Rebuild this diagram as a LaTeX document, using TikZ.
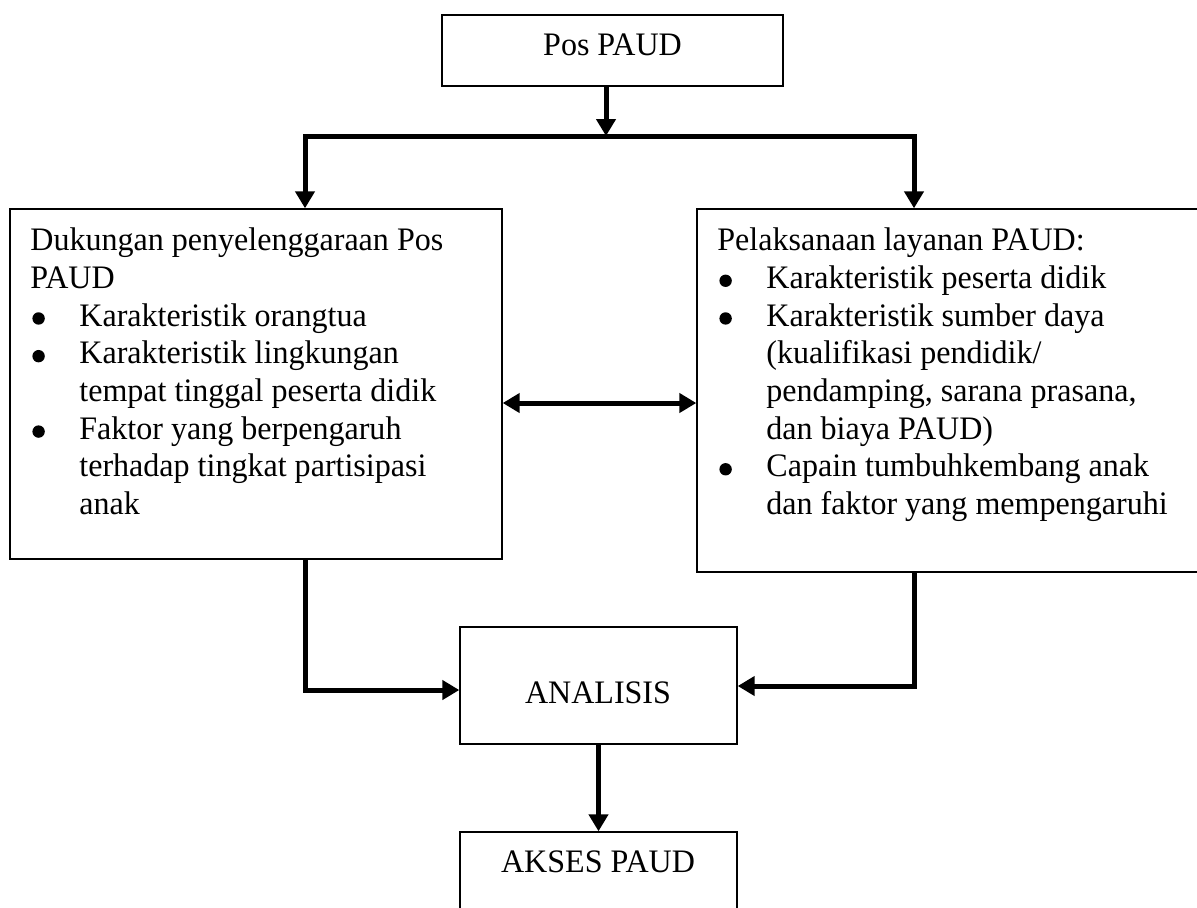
\documentclass[tikz,border=0pt]{standalone}
\usepackage{fontspec}
\setmainfont{Liberation Serif}[FakeStretch=0.977]
\usetikzlibrary{arrows.meta}
\newcommand\bl{\makebox[24.5pt][l]{\tikz[baseline=0pt]{\path (0pt,0pt); \fill (4.1pt,3.8pt) circle (3.1pt);}}}
\newcommand\il{\hspace*{24.5pt}}
\begin{document}
\begin{tikzpicture}[x=0.5pt,y=-0.5pt,
  box/.style={draw=black,line width=0.7pt,fill=white,inner sep=0pt,rectangle},
  txt/.style={inner sep=0pt,font=\fontsize{16.4pt}{18.85pt}\selectfont},
  arr/.style={line width=2.5pt,line join=miter,-{Triangle[length=8.5pt,width=9.5pt]}},
  arrs/.style={line width=2.5pt,{Triangle[length=8.5pt,width=9.5pt]}-{Triangle[length=8.5pt,width=9.5pt]}}]
\useasboundingbox (0,0) rectangle (1197,907);
\clip (0,0) rectangle (1197,907);
\fill[white] (0,0) rectangle (1197,907);
% boxes
\node[box,minimum width=170.5pt,minimum height=35.5pt] (pos) at (612.5,50.5) {};
\node[box,minimum width=246pt,minimum height=175pt] (dk) at (256,384) {};
\node[box,minimum width=254pt,minimum height=181.5pt] (pl) at (951,390.5) {};
\node[box,minimum width=138.5pt,minimum height=58.5pt] (an) at (598.5,685.5) {};
\node[box,minimum width=138.5pt,minimum height=54pt] (ak) at (598.5,886) {};
% texts
\node[txt,anchor=base] (posT) at (612.5,55) {Pos PAUD};
\node[txt,anchor=base] (anT) at (598,703) {ANALISIS};
\node[txt,anchor=base] (akT) at (598,872) {AKSES PAUD};
\node[txt,anchor=north west,align=left] (dkT) at (30,227.5) {%
Dukungan penyelenggaraan Pos\\
PAUD\\
\bl Karakteristik orangtua\\
\bl Karakteristik lingkungan\\
\il tempat tinggal peserta didik\\
\bl Faktor yang berpengaruh\\
\il terhadap tingkat partisipasi\\
\il anak};
\node[txt,anchor=north west,align=left] (plT) at (717,227.5) {%
Pelaksanaan layanan PAUD:\\
\bl Karakteristik peserta didik\\
\bl Karakteristik sumber daya\\
\il (kualifikasi pendidik/\\
\il pendamping, sarana prasana,\\
\il dan biaya PAUD)\\
\bl Capain tumbuhkembang anak\\
\il dan faktor yang mempengaruhi};
% connectors
\coordinate (split) at (606,136);
\coordinate (lt) at (305,136);
\coordinate (rt) at (914,136);
\coordinate (mid) at (600,403);
\coordinate (lc) at (305,690);
\coordinate (rc) at (914,686);
\draw[arr] (pos.south -| split) -- (split);
\draw[arr] (rt) -- (lt) -- (lt |- dk.north);
\draw[arr] (lt) -- (rt) -- (rt |- pl.north);
\draw[arrs] (dk.east |- mid) -- (pl.west |- mid);
\draw[arr] (dk.south -| lc) -- (lc) -- (an.west |- lc);
\draw[arr] (pl.south -| rc) -- (rc) -- (an.east |- rc);
\draw[arr] (an.south) -- (ak.north);
\end{tikzpicture}
\end{document}
